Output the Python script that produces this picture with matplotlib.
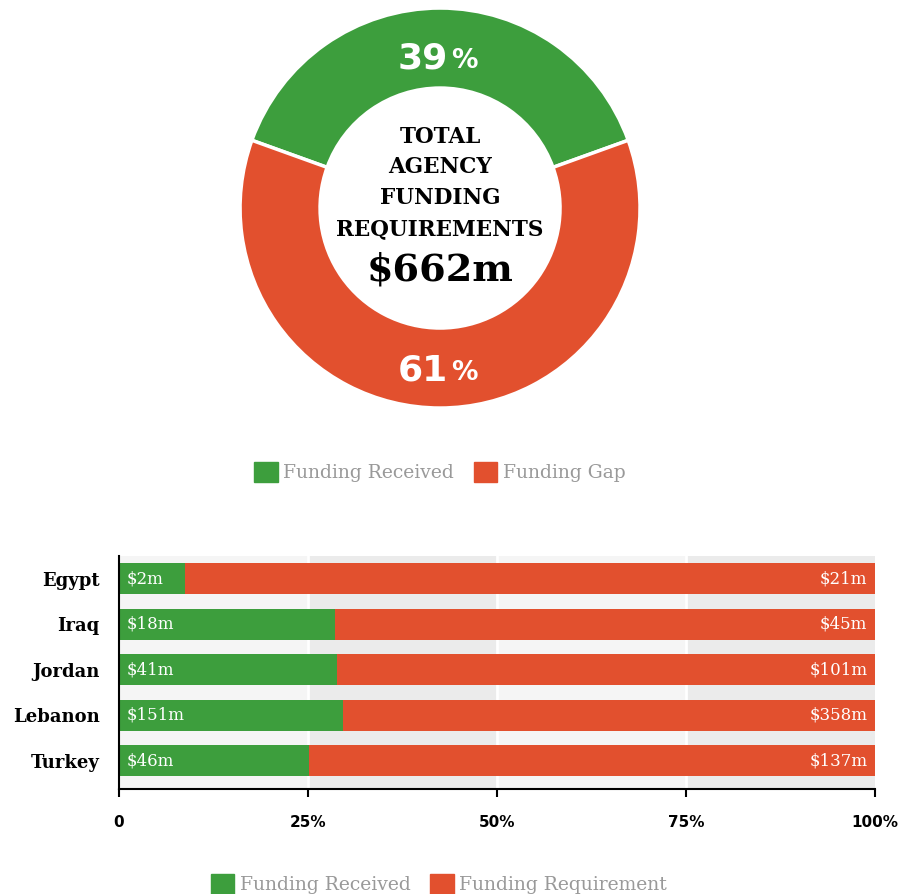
import numpy as np
import matplotlib.pyplot as plt
from matplotlib.patches import Patch

# donut data
shares = [39, 61]
share_labels = ["Funding Received", "Funding Gap"]
total_label = "$662m"

# bar data
countries = ["Egypt", "Iraq", "Jordan", "Lebanon", "Turkey"]
received = [2, 18, 41, 151, 46]
requirement = [21, 45, 101, 358, 137]

green = "#3d9e3d"
red = "#e2502e"
grey_txt = "#999999"

fig = plt.figure(figsize=(9.01, 8.94), dpi=100)

# ---- donut ----
ax1 = fig.add_axes([0.2664, 0.5436, 0.444, 0.4474])
start = 90 + shares[0] / 100 * 360 / 2
wedges, _ = ax1.pie(shares, colors=[green, red], startangle=start, counterclock=False,
                    radius=1, wedgeprops=dict(width=0.4, edgecolor="white", linewidth=2.5))
ax1.set_xlim(-1, 1)
ax1.set_ylim(-1, 1)
ax1.set_aspect("equal")
ax1.axis("off")

ang = start
for w, s in zip(wedges, shares):
    mid = np.deg2rad(ang - s / 100 * 360 / 2)
    ang -= s / 100 * 360
    r = 0.78
    x, y = r * np.cos(mid), r * np.sin(mid) - 0.08
    ax1.text(x + 0.04, y, str(s), ha="right", va="baseline", color="white",
             fontsize=26, fontweight="heavy", family="DejaVu Sans")
    ax1.text(x + 0.055, y, "%", ha="left", va="baseline", color="white",
             fontsize=19, fontweight="bold", family="DejaVu Sans")

for txt, yy in zip(["TOTAL", "AGENCY", "FUNDING", "REQUIREMENTS"], [0.355, 0.205, 0.05, -0.105]):
    ax1.text(0, yy, txt, ha="center", va="center", fontsize=15.5, fontweight="bold",
             family="DejaVu Serif", color="black")
ax1.text(0, -0.36, total_label, ha="center", va="baseline", fontsize=27.5, fontweight="heavy",
         family="DejaVu Serif", color="black")

fig.legend(handles=[Patch(color=green), Patch(color=red)], labels=share_labels,
           loc="center", bbox_to_anchor=(0.4883, 0.472), ncol=2, frameon=False,
           handlelength=1.25, handleheight=1.25, handletextpad=0.3, columnspacing=1.05,
           prop=dict(family="DejaVu Serif", size=13.5), labelcolor=grey_txt)

# ---- stacked bars ----
ax2 = fig.add_axes([0.1321, 0.1174, 0.8391, 0.2606])
rec = np.array(received, dtype=float)
req = np.array(requirement, dtype=float)
tot = rec + req
rec_pct = rec / tot * 100
req_pct = req / tot * 100
ypos = np.arange(len(countries))

for i, (a, b) in enumerate([(0, 25), (25, 50), (50, 75), (75, 100)]):
    ax2.axvspan(a, b, color="#f5f5f5" if i % 2 == 0 else "#ebebeb", zorder=0, lw=0)
for xv in [25, 50, 75]:
    ax2.axvline(xv, color="white", lw=2, zorder=0.5)

ax2.barh(ypos, rec_pct, height=0.68, color=green, zorder=2)
ax2.barh(ypos, req_pct, left=rec_pct, height=0.68, color=red, zorder=2)

for y, a, b in zip(ypos, received, requirement):
    ax2.text(1, y, f"${a}m", ha="left", va="center", color="white", fontsize=12,
             family="DejaVu Serif", zorder=3)
    ax2.text(99, y, f"${b}m", ha="right", va="center", color="white", fontsize=12,
             family="DejaVu Serif", zorder=3)

ax2.set_xlim(0, 100)
ax2.set_ylim(4.626, -0.495)
ax2.set_yticks(ypos)
ax2.set_yticklabels(countries, family="DejaVu Serif", fontsize=13, fontweight="bold")
ax2.tick_params(axis="y", length=0, pad=14)
ax2.set_xticks([0, 25, 50, 75, 100])
ax2.set_xticklabels(["0", "25%", "50%", "75%", "100%"], family="DejaVu Sans",
                    fontsize=11, fontweight="bold")
ax2.tick_params(axis="x", length=6, width=1.5, pad=13, direction="out")
for s in ["top", "right"]:
    ax2.spines[s].set_visible(False)
ax2.spines["left"].set_linewidth(1.5)
ax2.spines["bottom"].set_linewidth(1.5)

fig.legend(handles=[Patch(color=green), Patch(color=red)],
           labels=["Funding Received", "Funding Requirement"],
           loc="center", bbox_to_anchor=(0.487, 0.0112), ncol=2, frameon=False,
           handlelength=1.25, handleheight=1.25, handletextpad=0.3, columnspacing=1.05,
           prop=dict(family="DejaVu Serif", size=13.5), labelcolor=grey_txt)

fig.savefig("out.png", dpi=100, facecolor="white")
